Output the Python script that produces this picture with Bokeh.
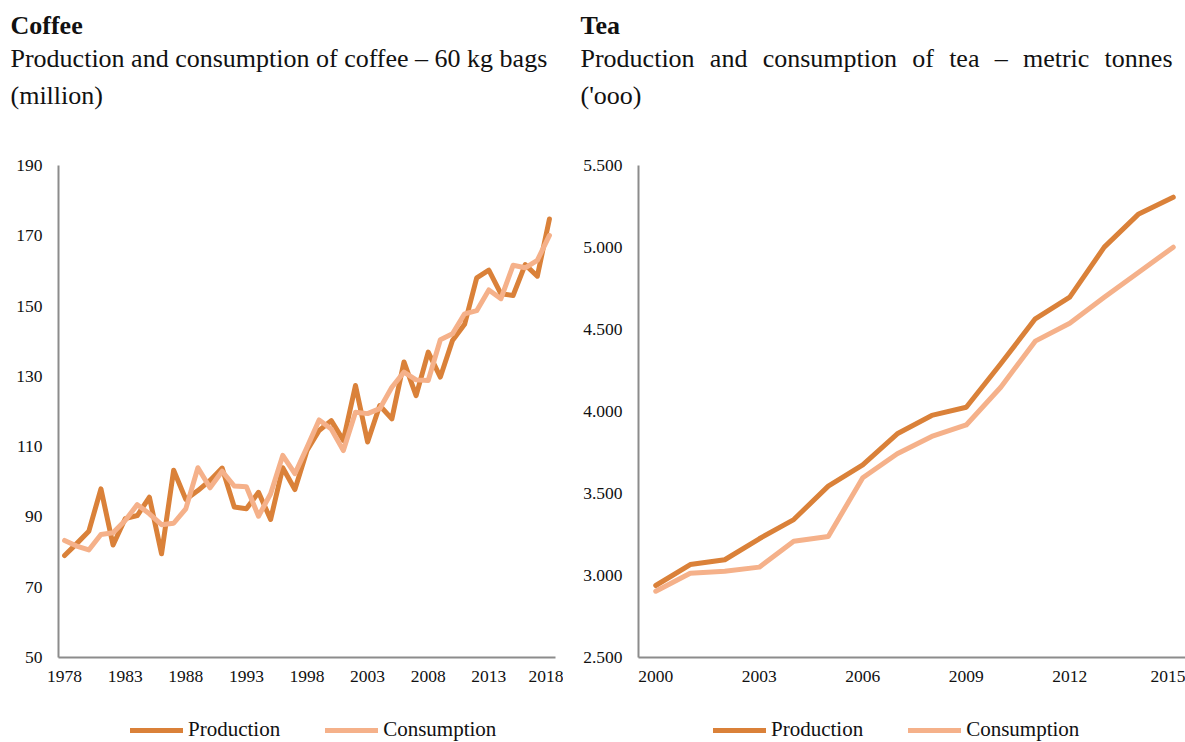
from bokeh.plotting import figure
from bokeh.models import Range1d, FixedTicker, Label, Legend, LegendItem
from bokeh.layouts import row, column
from bokeh.embed import file_html
from bokeh.resources import INLINE

# ---------------- data ----------------
coffee_years = list(range(1978, 2019))
coffee_production = [79.0, 82.4, 85.9, 98.0, 82.0, 89.5, 90.4, 95.6, 79.5, 103.3,
                     95.0, 97.5, 100.4, 103.9, 92.8, 92.3, 97.0, 89.3, 104.0, 97.8,
                     108.9, 114.6, 117.4, 111.8, 127.4, 111.3, 121.7, 117.9, 134.1, 124.5,
                     136.9, 129.8, 140.2, 144.8, 158.0, 160.2, 153.5, 153.0, 161.8, 158.5,
                     174.8]
coffee_consumption = [83.3, 81.7, 80.6, 85.0, 85.5, 89.0, 93.5, 90.9, 87.8, 88.2,
                      92.3, 104.0, 98.3, 103.0, 98.8, 98.6, 90.2, 96.6, 107.5, 102.3,
                      109.8, 117.6, 115.0, 108.9, 119.8, 119.4, 120.8, 126.9, 131.2, 129.0,
                      128.8, 140.4, 142.1, 147.8, 148.7, 154.6, 152.1, 161.6, 160.9, 163.0,
                      170.1]
coffee_x_ticks = [1978, 1983, 1988, 1993, 1998, 2003, 2008, 2013, 2018]
coffee_y_ticks = [50, 70, 90, 110, 130, 150, 170, 190]

tea_years = list(range(2000, 2016))
tea_production = [2939, 3067, 3096, 3224, 3341, 3545, 3675, 3864, 3976, 4026,
                  4291, 4565, 4697, 5002, 5205, 5307]
tea_consumption = [2904, 3014, 3026, 3051, 3209, 3238, 3596, 3742, 3848, 3918,
                   4148, 4429, 4538, 4697, 4849, 5002]
tea_x_ticks = [2000, 2003, 2006, 2009, 2012, 2015]
tea_y_ticks = [2500, 3000, 3500, 4000, 4500, 5000, 5500]
tea_y_labels = ["2.500", "3.000", "3.500", "4.000", "4.500", "5.000", "5.500"]

series_names = ["Production", "Consumption"]
coffee_title = "Coffee"
coffee_sub1 = "Production and consumption of coffee \u2013 60 kg bags"
coffee_sub2 = "(million)"
tea_title = "Tea"
tea_sub1_words = ["Production", "and", "consumption", "of", "tea", "\u2013", "metric", "tonnes"]
tea_sub2 = "('ooo)"

# ---------------- style ----------------
PROD_COLOR = "#DA8139"
CONS_COLOR = "#F5B18A"
AXIS_COLOR = "#8C8C8C"
TEXT_COLOR = "#111111"
FONT = "Liberation Serif"
W_TOTAL = 1185
H_HEAD = 140
H_CHART = 565
H_FOOT = 742 - H_HEAD - H_CHART
FRAME_TOP_PAGE = 165
FRAME_BOTTOM_PAGE = 657


def bare_fig(width, height, yr):
    p = figure(width=width, height=height, output_backend="svg", toolbar_location=None,
               x_range=Range1d(0, width), y_range=Range1d(*yr),
               x_axis_location=None, y_axis_location=None, min_border=0)
    p.outline_line_color = None
    p.xgrid.visible = False
    p.ygrid.visible = False
    p.background_fill_color = "white"
    p.border_fill_color = "white"
    return p


def make_fig(width, left, right, xr, yr, xticks, yticks, ylabels=None):
    p = figure(width=width, height=H_CHART, output_backend="svg", toolbar_location=None,
               x_range=Range1d(*xr), y_range=Range1d(*yr),
               min_border_left=left, min_border_right=right,
               min_border_top=FRAME_TOP_PAGE - H_HEAD,
               min_border_bottom=H_HEAD + H_CHART - FRAME_BOTTOM_PAGE)
    p.outline_line_color = None
    p.xgrid.visible = False
    p.ygrid.visible = False
    p.background_fill_color = "white"
    p.border_fill_color = "white"
    for ax in (p.xaxis[0], p.yaxis[0]):
        ax.axis_line_color = AXIS_COLOR
        ax.axis_line_width = 2
        ax.major_tick_line_color = None
        ax.minor_tick_line_color = None
        ax.major_tick_out = 0
        ax.major_tick_in = 0
        ax.major_label_text_font = FONT
        ax.major_label_text_font_size = "17.5px"
        ax.major_label_text_color = TEXT_COLOR
    p.xaxis[0].ticker = FixedTicker(ticks=xticks)
    p.xaxis[0].major_label_overrides = {t: str(t) for t in xticks}
    p.xaxis[0].major_label_standoff = 13
    p.yaxis[0].ticker = FixedTicker(ticks=yticks)
    if ylabels:
        p.yaxis[0].major_label_overrides = {t: l for t, l in zip(yticks, ylabels)}
    p.yaxis[0].major_label_standoff = 16
    return p


def draw_lines(p, xs, prod, cons, visible=True):
    r1 = p.line(xs, prod, line_color=PROD_COLOR, line_width=5,
                line_join="round", line_cap="round", visible=visible)
    r2 = p.line(xs, cons, line_color=CONS_COLOR, line_width=5,
                line_join="round", line_cap="round", visible=visible)
    return r1, r2


def text_label(p, txt, x, y, bold=False):
    p.add_layout(Label(x=x, y=y, text=txt,
                       text_font=FONT, text_font_size="26px",
                       text_font_style="bold" if bold else "normal",
                       text_color=TEXT_COLOR, text_baseline="alphabetic",
                       text_align="left"))


# ---------------- header (titles) ----------------
Y_T, Y_S1, Y_S2 = 25, 58, 95
head = bare_fig(W_TOTAL, H_HEAD, (H_HEAD, 0))
text_label(head, coffee_title, 10, Y_T, bold=True)
text_label(head, coffee_sub1, 10, Y_S1)
text_label(head, coffee_sub2, 10, Y_S2)
text_label(head, tea_title, 580, Y_T, bold=True)
em = {"Production": 4.389, "and": 1.444, "consumption": 5.167, "of": 0.833,
      "tea": 1.166, "\u2013": 0.5, "metric": 2.555, "tonnes": 2.611}
fs = 26
x_start, x_end = 580, 1172
total = sum(em[w] for w in tea_sub1_words) * fs
gap = (x_end - x_start - total) / (len(tea_sub1_words) - 1)
xpos = x_start
for w in tea_sub1_words:
    text_label(head, w, xpos, Y_S1)
    xpos += em[w] * fs + gap
text_label(head, tea_sub2, 580, Y_S2)

# ---------------- coffee chart ----------------
C_W = 563
C_LEFT = 58
pc = make_fig(C_W, C_LEFT, 8, (1977.5, 2018.5), (50, 190), coffee_x_ticks, coffee_y_ticks)
draw_lines(pc, coffee_years, coffee_production, coffee_consumption)

# ---------------- tea chart ----------------
T_W = W_TOTAL - C_W
T_LEFT = 75
px_per_year = 34.5
t_end = 1999.5 + (T_W - T_LEFT) / px_per_year
pt = make_fig(T_W, T_LEFT, 0, (1999.5, t_end), (2500, 5500), tea_x_ticks, tea_y_ticks, tea_y_labels)
draw_lines(pt, tea_years, tea_production, tea_consumption)

# ---------------- footer (legends) ----------------
foot = bare_fig(W_TOTAL, H_FOOT, (0, H_FOOT))
cr = draw_lines(foot, coffee_years, coffee_production, coffee_consumption, visible=False)
tr = draw_lines(foot, tea_years, tea_production, tea_consumption, visible=False)


def add_legend(p, rs, loc):
    lg = Legend(items=[LegendItem(label=series_names[0], renderers=[rs[0]]),
                       LegendItem(label=series_names[1], renderers=[rs[1]])],
                orientation="horizontal", location=loc,
                glyph_width=53, glyph_height=24, label_height=24,
                label_standoff=5, spacing=45, padding=0, margin=0,
                border_line_color=None, background_fill_alpha=0,
                label_text_font=FONT, label_text_font_size="21px",
                label_text_color=TEXT_COLOR)
    p.add_layout(lg)


add_legend(foot, cr, (130, 0))
add_legend(foot, tr, (713, 0))

layout = column(head, row(pc, pt, spacing=0), foot, spacing=0)
open("out.html", "w").write(file_html(layout, INLINE))
